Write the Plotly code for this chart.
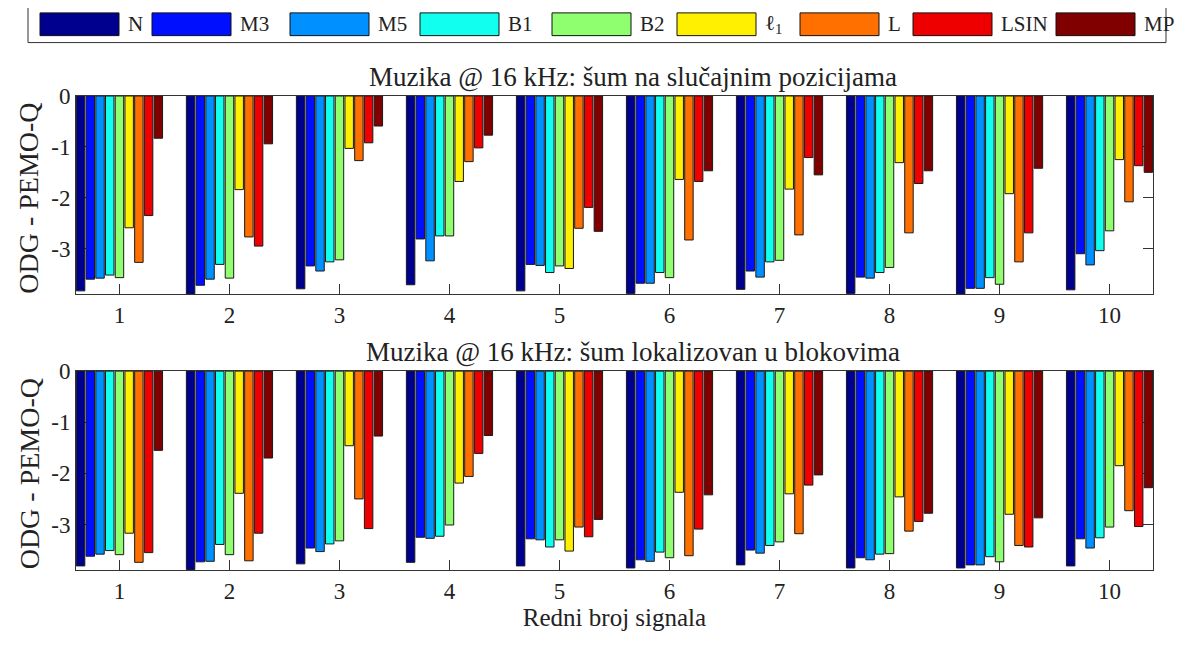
import plotly.graph_objects as go

# signals 1..10
signals = list(range(1, 11))
tick_labels = [str(s) for s in signals]

methods = ["N", "M3", "M5", "B1", "B2", "ℓ<sub>1</sub>", "L", "LSIN", "MP"]
colors = ["#00008F", "#0010FF", "#0090FF", "#10FFEF", "#8FFF70",
          "#FFEF00", "#FF7000", "#EF0000", "#800000"]

# ODG values, top panel: noise at random positions
top_N = [-3.83, -3.89, -3.79, -3.71, -3.83, -3.88, -3.80, -3.88, -3.89, -3.81]
top_M3 = [-3.60, -3.72, -3.34, -2.81, -3.31, -3.68, -3.44, -3.56, -3.78, -3.10]
top_M5 = [-3.58, -3.60, -3.44, -3.24, -3.33, -3.68, -3.56, -3.58, -3.78, -3.32]
top_B1 = [-3.52, -3.31, -3.26, -2.75, -3.47, -3.47, -3.26, -3.47, -3.57, -3.04]
top_B2 = [-3.57, -3.58, -3.22, -2.75, -3.34, -3.57, -3.23, -3.37, -3.70, -2.65]
top_l1 = [-2.59, -1.84, -1.03, -1.68, -3.39, -1.64, -1.83, -1.31, -1.92, -1.25]
top_L = [-3.27, -2.77, -1.27, -1.29, -2.60, -2.83, -2.73, -2.69, -3.26, -2.08]
top_LSIN = [-2.35, -2.95, -0.92, -1.02, -2.19, -1.68, -1.21, -1.72, -2.69, -1.37]
top_MP = [-0.83, -0.94, -0.59, -0.77, -2.66, -1.47, -1.55, -1.47, -1.42, -1.50]

# ODG values, bottom panel: noise localized in blocks
bot_N = [-3.81, -3.88, -3.77, -3.74, -3.81, -3.85, -3.79, -3.85, -3.85, -3.81]
bot_M3 = [-3.62, -3.73, -3.46, -3.25, -3.28, -3.69, -3.50, -3.65, -3.79, -3.28]
bot_M5 = [-3.58, -3.72, -3.53, -3.27, -3.30, -3.72, -3.56, -3.69, -3.79, -3.46]
bot_B1 = [-3.51, -3.39, -3.38, -3.23, -3.44, -3.54, -3.41, -3.58, -3.63, -3.26]
bot_B2 = [-3.59, -3.59, -3.32, -3.01, -3.30, -3.65, -3.34, -3.57, -3.73, -3.05]
bot_l1 = [-3.17, -2.39, -1.46, -2.19, -3.52, -2.37, -2.40, -2.46, -2.80, -1.85]
bot_L = [-3.74, -3.71, -2.50, -2.06, -3.05, -3.61, -3.18, -3.13, -3.41, -2.73]
bot_LSIN = [-3.55, -3.17, -3.08, -1.61, -3.24, -3.09, -2.23, -2.94, -3.44, -3.04]
bot_MP = [-1.55, -1.70, -1.27, -1.26, -2.90, -2.42, -2.03, -2.78, -2.87, -2.28]

top_series = [top_N, top_M3, top_M5, top_B1, top_B2, top_l1, top_L, top_LSIN, top_MP]
bot_series = [bot_N, bot_M3, bot_M5, bot_B1, bot_B2, bot_l1, bot_L, bot_LSIN, bot_MP]

y_ticks = [0, -1, -2, -3]
y_tick_text = ["0", "-1", "-2", "-3"]

title_top = "Muzika @ 16 kHz: šum na slučajnim pozicijama"
title_bot = "Muzika @ 16 kHz: šum lokalizovan u blokovima"
x_title = "Redni broj signala"
y_title = "ODG - PEMO-Q"

FONT = "Liberation Serif"
INK = "#222"
OFF = 8  # page body margin
W, H = 1194 - 2 * OFF, 646 - 2 * OFF
# plot area edges in page pixels
P_L, P_R, P_T, P_B = 76, 1153, 96, 575
TOP_BOTTOM, BOT_TOP = 296, 374
ML, MR, MT, MB = P_L - OFF, W - (P_R - OFF), P_T - OFF, H - (P_B - OFF)
pw = W - ML - MR
ph = H - MT - MB


def px2x(p):
    return (p - P_L) / pw


def py2y(p):
    return (P_B - p) / ph


fig = go.Figure()
for name, col, vals in zip(methods, colors, top_series):
    fig.add_trace(go.Bar(x=signals, y=vals, name=name, marker_color=col,
                         marker_line=dict(color="#1a1a1a", width=1),
                         xaxis="x", yaxis="y", showlegend=False))
for name, col, vals in zip(methods, colors, bot_series):
    fig.add_trace(go.Bar(x=signals, y=vals, name=name, marker_color=col,
                         marker_line=dict(color="#1a1a1a", width=1),
                         xaxis="x2", yaxis="y2", showlegend=False))

top_dom = [py2y(TOP_BOTTOM), 1.0]
bot_dom = [0.0, py2y(BOT_TOP)]

ax = dict(showline=True, linecolor="#333", linewidth=1, mirror="ticks",
          ticks="inside", ticklen=10, tickcolor="#333", showgrid=False,
          zeroline=False, layer="below traces",
          tickfont=dict(family=FONT, size=23, color=INK))
xa = dict(ax, range=[0.605, 10.395], tickvals=signals, ticktext=tick_labels)
ya = dict(ax, range=[-3.89, 0], tickvals=y_ticks, ticktext=y_tick_text)

fig.update_layout(
    width=W, height=H,
    margin=dict(l=ML, r=MR, t=MT, b=MB),
    plot_bgcolor="white", paper_bgcolor="white",
    barmode="group", bargap=0.205, bargroupgap=0.13,
    xaxis=dict(xa, anchor="y"),
    yaxis=dict(ya, domain=top_dom, anchor="x"),
    xaxis2=dict(xa, anchor="y2",
                title=dict(text=x_title, font=dict(family=FONT, size=25, color=INK),
                           standoff=5)),
    yaxis2=dict(ya, domain=bot_dom, anchor="x2"),
    showlegend=False,
)

# panel titles and y labels
for text, ytop in ((title_top, P_T), (title_bot, BOT_TOP)):
    fig.add_annotation(text=text, xref="paper", yref="paper",
                       x=px2x(633), y=py2y(ytop - 19), showarrow=False,
                       xanchor="center", yanchor="middle",
                       font=dict(family=FONT, size=27, color=INK))
for dom in (top_dom, bot_dom):
    fig.add_annotation(text=y_title, xref="paper", yref="paper",
                       x=px2x(29), y=sum(dom) / 2 - 0.008, textangle=-90,
                       showarrow=False, xanchor="center", yanchor="middle",
                       font=dict(family=FONT, size=28, color=INK))

# legend box across the top
fig.add_shape(type="rect", xref="paper", yref="paper",
              x0=px2x(28), x1=px2x(1166), y0=py2y(42), y1=py2y(5),
              line=dict(color="#333", width=1), fillcolor="white")
sw_x = [40, 152, 290, 420, 552, 677, 800, 913, 1056]
for sx, name, col in zip(sw_x, methods, colors):
    fig.add_shape(type="rect", xref="paper", yref="paper",
                  x0=px2x(sx), x1=px2x(sx + 79), y0=py2y(35), y1=py2y(12),
                  line=dict(color="#111", width=1), fillcolor=col)
    fig.add_annotation(text=name, xref="paper", yref="paper",
                       x=px2x(sx + 86), y=py2y(23), showarrow=False,
                       xanchor="left", yanchor="middle",
                       font=dict(family=FONT, size=21, color=INK))

fig.write_html("out.html")
